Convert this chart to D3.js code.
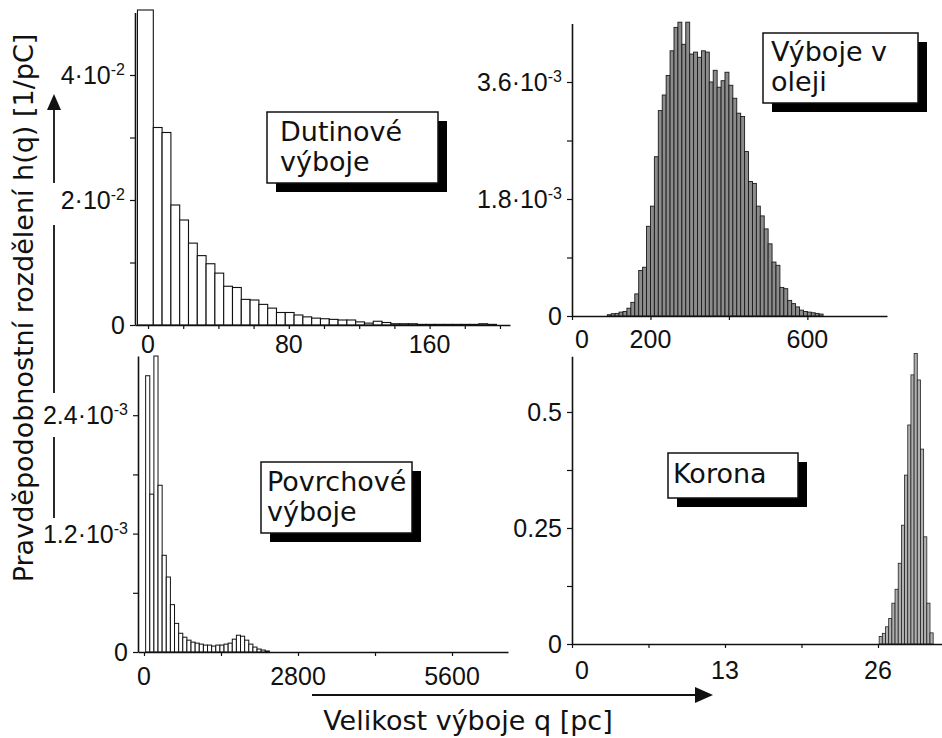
<!DOCTYPE html>
<html><head><meta charset="utf-8">
<script src="https://cdn.jsdelivr.net/npm/d3@7"></script>
<style>body{margin:0;background:#fff} svg{display:block}</style>
</head><body>
<svg id="c" width="942" height="738"></svg>
<script>
// ---------------- DATA ----------------
// Panel 1: Dutinové výboje (values in units of 1e-2 1/pC)
const dutUnit = 1e-2;
const dutFirstBin = [-6, 3];
const dutBinStart = 3, dutBinWidth = 5;
const dutValues = [5.04, 3.16, 3.08, 1.92, 1.68, 1.31, 1.11, 0.98, 0.83, 0.62, 0.60, 0.41, 0.40, 0.33, 0.27,
  0.20, 0.20, 0.16, 0.13, 0.11, 0.10, 0.09, 0.08, 0.08, 0.05, 0.03, 0.06, 0.04, 0.02, 0.02, 0.02, 0.01,
  0.01, 0.01, 0.01, 0.01, 0.01, 0.01, 0.02, 0.01];
const dutYTicks = [0, 0.02, 0.04];
const dutYMinor = [0.01, 0.03];
const dutYLabels = [["0", ""], ["2·10", "-2"], ["4·10", "-2"]];
const dutXTicks = [0, 80, 160];
const dutXMinor = [20, 40, 60, 100, 120, 140, 180, 200];
const dutXLabels = ["0", "80", "160"];

// Panel 2: Výboje v oleji (values in units of 1e-3)
const olejUnit = 1e-3;
const olejBinStart = 90, olejBinWidth = 10;
const olejValues = [0.02, 0.035, 0.04, 0.06, 0.07, 0.12, 0.21, 0.34, 0.70, 0.75, 1.38, 1.69, 2.45, 3.16, 3.40,
  3.70, 4.08, 4.44, 4.52, 4.18, 4.52, 4.03, 4.06, 3.98, 4.08, 4.06, 3.60, 3.78, 3.52, 3.62, 3.75, 3.55,
  3.35, 3.12, 3.07, 2.53, 2.07, 2.04, 1.69, 1.54, 1.34, 1.11, 0.83, 0.78, 0.44, 0.42, 0.24, 0.19, 0.14,
  0.09, 0.07, 0.06, 0.05, 0.04, 0.03];
const olejYTicks = [0, 0.0018, 0.0036];
const olejYMinor = [0.0009, 0.0027];
const olejYLabels = [["0", ""], ["1.8·10", "-3"], ["3.6·10", "-3"]];
const olejXTicks = [0, 200, 600];
const olejXMinor = [400];
const olejXLabels = ["0", "200", "600"];

// Panel 3: Povrchové výboje (values in units of 1e-3)
const povUnit = 1e-3;
const povBinStart = 30, povBinWidth = 75;
const povValues = [2.80, 1.60, 3.00, 1.69, 0.98, 0.76, 0.48, 0.29, 0.19, 0.15, 0.12, 0.10, 0.09, 0.08, 0.07,
  0.07, 0.06, 0.07, 0.07, 0.08, 0.09, 0.13, 0.17, 0.16, 0.12, 0.08, 0.05, 0.03, 0.02, 0.01];
const povYTicks = [0, 0.0012, 0.0024];
const povYMinor = [0.0006, 0.0018];
const povYLabels = [["0", ""], ["1.2·10", "-3"], ["2.4·10", "-3"]];
const povXTicks = [0, 2800, 5600];
const povXMinor = [1400, 4200];
const povXLabels = ["0", "2800", "5600"];

// Panel 4: Korona
const korUnit = 1;
const korBinStart = 26.1, korBinWidth = 0.27;
const korValues = [0.016, 0.023, 0.037, 0.055, 0.088, 0.118, 0.174, 0.256, 0.364, 0.472, 0.580, 0.626,
  0.569, 0.420, 0.231, 0.088, 0.024];
const korYTicks = [0, 0.25, 0.5];
const korYMinor = [0.125, 0.375];
const korYLabels = [["0", ""], ["0.25", ""], ["0.5", ""]];
const korXTicks = [0, 13, 26];
const korXMinor = [6.5, 19.5];
const korXLabels = ["0", "13", "26"];

const boxTitles = [["Dutinové", "výboje"], ["Výboje v", "oleji"], ["Povrchové", "výboje"], ["Korona"]];
const yTitle = "Pravděpodobnostní rozdělení h(q) [1/pC]";
const xTitle = "Velikost výboje q [pc]";

// ---------------- LAYOUT ----------------
function mkBins(start, width, values, unit, first) {
  return values.map((v, i) => {
    if (first && i === 0) return {x0: first[0], x1: first[1], v: v * unit};
    const k = first ? i - 1 : i;
    const s = (first ? first[1] : start) + k * width;
    return {x0: s, x1: s + width, v: v * unit};
  });
}

const panels = [
  {bins: mkBins(dutBinStart, dutBinWidth, dutValues, dutUnit, dutFirstBin),
   xDomain: [-7.4, 205.7], yDomain: [0, 0.05], left: 135, right: 510, top: 12.5, bottom: 325,
   yTicks: dutYTicks, yMinor: dutYMinor, yLabels: dutYLabels, xTicks: dutXTicks, xMinor: dutXMinor, xLabels: dutXLabels,
   fill: "#fff", stroke: "#111", sw: 1.1, xLabOff: 28, zeroDx: 0,
   box: {x: 267, y: 112, w: 171, h: 71, tx: 280, lines: boxTitles[0], by: [141, 171]}},
  {bins: mkBins(olejBinStart, olejBinWidth, olejValues, olejUnit),
   xDomain: [0, 803], yDomain: [0, 0.0045], left: 572, right: 887, top: 23.5, bottom: 316,
   yTicks: olejYTicks, yMinor: olejYMinor, yLabels: olejYLabels, xTicks: olejXTicks, xMinor: olejXMinor, xLabels: olejXLabels,
   fill: "#8c8c8c", stroke: "#1a1a1a", sw: 0.9, xLabOff: 32, zeroDx: 10,
   box: {x: 763, y: 33, w: 155, h: 70, tx: 771, lines: boxTitles[1], by: [61, 91]}},
  {bins: mkBins(povBinStart, povBinWidth, povValues, povUnit),
   xDomain: [-109, 6618], yDomain: [0, 0.003], left: 138, right: 508, top: 356, bottom: 652,
   yTicks: povYTicks, yMinor: povYMinor, yLabels: povYLabels, xTicks: povXTicks, xMinor: povXMinor, xLabels: povXLabels,
   fill: "#fff", stroke: "#111", sw: 1, xLabOff: 33, zeroDx: 0,
   box: {x: 261, y: 462, w: 151, h: 71, tx: 267, lines: boxTitles[2], by: [491, 521]}},
  {bins: mkBins(korBinStart, korBinWidth, korValues, korUnit),
   xDomain: [0, 31.44], yDomain: [0, 0.62], left: 572, right: 942, top: 356.3, bottom: 644,
   yTicks: korYTicks, yMinor: korYMinor, yLabels: korYLabels, xTicks: korXTicks, xMinor: korXMinor, xLabels: korXLabels,
   fill: "#b0b0b0", stroke: "#222", sw: 0.8, xLabOff: 35, zeroDx: 10,
   box: {x: 668, y: 453, w: 130, h: 45, tx: 673, lines: boxTitles[3], by: [483]}}
];

const svg = d3.select("#c");
const INK = "#111";
const TICKFONT = "'Liberation Sans', Arial, sans-serif";
const TEXTFONT = "'DejaVu Sans', sans-serif";

panels.forEach(p => {
  const x = d3.scaleLinear().domain(p.xDomain).range([p.left, p.right]);
  const y = d3.scaleLinear().domain(p.yDomain).range([p.bottom, p.top]);
  const g = svg.append("g");

  g.selectAll("rect.bar").data(p.bins).join("rect").attr("class", "bar")
    .attr("x", d => x(d.x0)).attr("width", d => x(d.x1) - x(d.x0))
    .attr("y", d => y(d.v)).attr("height", d => y(0) - y(d.v))
    .attr("fill", p.fill).attr("stroke", p.stroke).attr("stroke-width", p.sw);

  const ya = g.append("g").attr("transform", `translate(${p.left},0)`)
    .call(d3.axisLeft(y).tickValues(p.yTicks.concat(p.yMinor)).tickSize(5).tickSizeOuter(0).tickFormat(""));
  const xa = g.append("g").attr("transform", `translate(0,${p.bottom})`)
    .call(d3.axisBottom(x).tickValues(p.xTicks.concat(p.xMinor)).tickSize(4).tickSizeOuter(0).tickFormat(""));
  [ya, xa].forEach(a => {
    a.select(".domain").attr("stroke", INK).attr("stroke-width", 1.6);
    a.selectAll(".tick line").attr("stroke", INK).attr("stroke-width", 1.2);
  });

  // y labels
  p.yTicks.forEach((v, i) => {
    const t = g.append("text").attr("x", p.left - 10).attr("y", y(v)).attr("dy", "0.36em")
      .attr("text-anchor", "end").attr("font-family", TICKFONT).attr("font-size", 25).attr("fill", INK);
    t.append("tspan").text(p.yLabels[i][0]);
    if (p.yLabels[i][1]) t.append("tspan").attr("dy", "-0.55em").attr("font-size", 16).text(p.yLabels[i][1]);
  });
  // x labels
  p.xTicks.forEach((v, i) => {
    g.append("text").attr("x", x(v) + (v === 0 ? p.zeroDx : 0)).attr("y", p.bottom + p.xLabOff)
      .attr("text-anchor", "middle").attr("font-family", TICKFONT).attr("font-size", 25).attr("fill", INK)
      .text(p.xLabels[i]);
  });

  // label box with shadow
  const b = p.box;
  g.append("rect").attr("x", b.x + 9).attr("y", b.y + 9).attr("width", b.w).attr("height", b.h).attr("fill", "#000");
  g.append("rect").attr("x", b.x).attr("y", b.y).attr("width", b.w).attr("height", b.h)
    .attr("fill", "#fff").attr("stroke", INK).attr("stroke-width", 1.5);
  b.lines.forEach((ln, i) => {
    g.append("text").attr("x", b.tx).attr("y", b.by[i]).attr("font-family", TEXTFONT).attr("font-size", 27)
      .attr("fill", INK).text(ln);
  });
});

// Vertical arrow (y title) with gaps
const vArrow = svg.append("g").attr("stroke", INK).attr("stroke-width", 1.8);
[[109, 183], [225, 393], [437, 518]].forEach(s =>
  vArrow.append("line").attr("x1", 54).attr("x2", 54).attr("y1", s[0]).attr("y2", s[1]));
svg.append("path").attr("d", "M54,94 L61,110 L47,110 Z").attr("fill", INK);

// Horizontal arrow (x title)
svg.append("line").attr("x1", 312).attr("x2", 698).attr("y1", 695).attr("y2", 695)
  .attr("stroke", INK).attr("stroke-width", 1.8);
svg.append("path").attr("d", "M713,695 L695,687 L695,703 Z").attr("fill", INK);

svg.append("text").attr("transform", "translate(33,308) rotate(-90)").attr("text-anchor", "middle")
  .attr("font-family", TEXTFONT).attr("font-size", 27).attr("fill", INK).text(yTitle);
svg.append("text").attr("x", 468).attr("y", 730).attr("text-anchor", "middle")
  .attr("font-family", TEXTFONT).attr("font-size", 27).attr("fill", INK).text(xTitle);
</script>
</body></html>
